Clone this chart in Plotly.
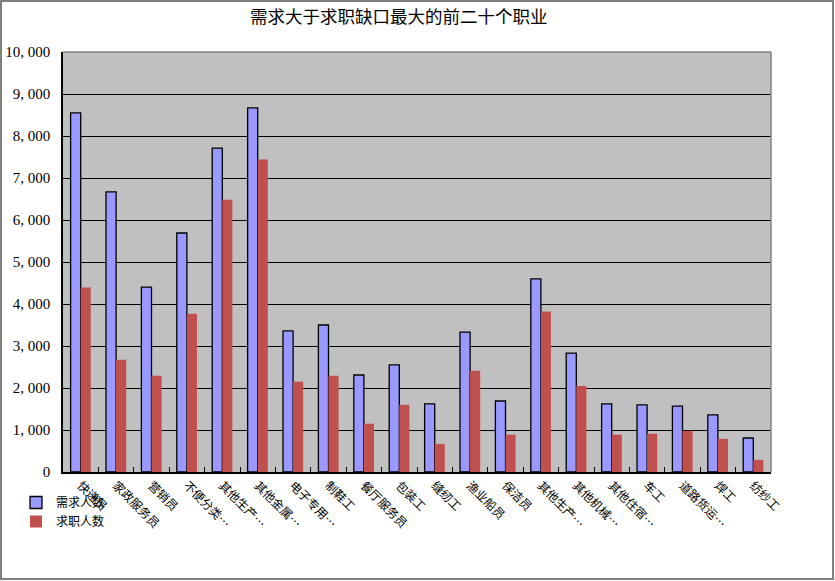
import plotly.graph_objects as go

categories = ["快递员", "家政服务员", "营销员", "不便分类…", "其他生产…", "其他金属…",
              "电子专用…", "制鞋工", "餐厅服务员", "包装工", "缝纫工", "渔业船员",
              "保洁员", "其他生产… ", "其他机械…", "其他住宿…", "车工", "道路货运…",
              "焊工", "纺纱工"]
demand = [8550, 6670, 4400, 5690, 7710, 8670, 3360, 3500, 2310, 2550,
          1620, 3330, 1690, 4600, 2830, 1620, 1600, 1570, 1360, 810]
seekers = [4390, 2670, 2290, 3770, 6480, 7440, 2150, 2290, 1150, 1600,
           670, 2410, 890, 3820, 2050, 890, 910, 980, 790, 290]
y_tickvals = [0, 1000, 2000, 3000, 4000, 5000, 6000, 7000, 8000, 9000, 10000]
y_ticktext = ["0", "1, 000", "2, 000", "3, 000", "4, 000", "5, 000",
              "6, 000", "7, 000", "8, 000", "9, 000", "10, 000"]
title_text = "需求大于求职缺口最大的前二十个职业"
name_demand = "需求人数"
name_seekers = "求职人数"

W, H = 835, 581
L, R, T, B = 63, 64, 52, 109
pw, ph = W - L - R, H - T - B

def px_x(p):
    return (p - L) / pw

def px_y(p):
    return (H - B - p) / ph

fig = go.Figure()
fig.add_trace(go.Bar(x=categories, y=demand, name=name_demand,
                     marker=dict(color="#9999FF", line=dict(color="black", width=1.3))))
fig.add_trace(go.Bar(x=categories, y=seekers, name=name_seekers,
                     marker=dict(color="#C0504D", line=dict(width=0))))

fig.update_layout(
    width=W, height=H,
    margin=dict(l=L, r=R, t=T, b=B, autoexpand=False),
    paper_bgcolor="white",
    plot_bgcolor="#C0C0C0",
    barmode="group",
    bargap=0.43,
    bargroupgap=0,
    font=dict(family="Noto Sans CJK SC", color="black", size=12),
    title=dict(text=title_text, x=396 / W, xanchor="center", xref="paper",
               y=1 - 17 / H, yanchor="middle",
               font=dict(family="Noto Sans CJK SC", size=17.5, color="black")),
    showlegend=True,
    legend=dict(x=px_x(16), y=px_y(488), xanchor="left", yanchor="top",
                orientation="v", bgcolor="rgba(0,0,0,0)",
                font=dict(family="Noto Sans CJK SC", size=12, color="black"),
                itemwidth=30, tracegroupgap=0),
)

fig.update_xaxes(
    type="category",
    automargin=False,
    tickangle=45,
    tickfont=dict(family="Noto Sans CJK SC", size=12, color="black"),
    showline=True, linecolor="black", linewidth=1.5,
    ticks="inside", ticklen=5, tickcolor="black", tickwidth=1,
    tickson="boundaries",
    showgrid=False,
)
fig.update_yaxes(
    range=[0, 10000],
    automargin=False,
    tickvals=y_tickvals, ticktext=y_ticktext,
    tickfont=dict(family="Liberation Serif", size=15, color="black"),
    showline=True, linecolor="black", linewidth=1.5,
    ticks="inside", ticklen=6, tickcolor="black",
    showgrid=True, gridcolor="black", gridwidth=1.3,
    ticklabelstandoff=8,
    zeroline=False,
)

# plot area top/right border (gray)
fig.add_shape(type="line", xref="paper", yref="paper", x0=0, x1=1, y0=1, y1=1,
              line=dict(color="#808080", width=1.5))
fig.add_shape(type="line", xref="paper", yref="paper", x0=1, x1=1, y0=0, y1=1,
              line=dict(color="#808080", width=1.5))
# outer chart border
fig.add_shape(type="rect", xref="paper", yref="paper",
              x0=px_x(1), x1=px_x(833), y0=px_y(579), y1=px_y(1),
              line=dict(color="#808080", width=2), fillcolor="rgba(0,0,0,0)")

fig.write_html("out.html", config={"displayModeBar": False},
               post_script="document.body.style.margin='0px';document.body.style.overflow='hidden';")
